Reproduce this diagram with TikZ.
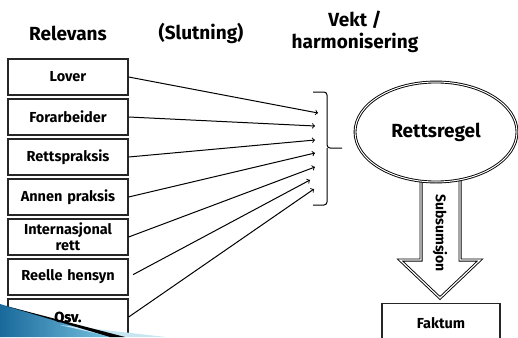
\documentclass[tikz,border=0pt]{standalone}
\usepackage{fontspec}
\setmainfont{Fira Sans}
\usetikzlibrary{arrows,positioning,shapes.geometric,calc}

\definecolor{bullblue}{RGB}{25,105,155}
\definecolor{bulllight}{RGB}{120,195,225}
\definecolor{bullpale}{RGB}{200,230,242}

\begin{document}
\begin{tikzpicture}[x=1pt,y=-1pt,>=to,node distance=2.7pt,line width=1pt,
    kilde/.style={draw=black!85, line width=1.3pt, minimum width=120pt,
      minimum height=36pt, text width=114pt, align=center, inner sep=1pt,
      font=\bfseries\fontsize{14.5}{16}\selectfont},
    overskrift/.style={font=\bfseries\fontsize{19}{22}\selectfont, align=center}]
    \useasboundingbox (0,0) rectangle (518,337);

    \node[overskrift] (relevans) at (68,33) {Relevans};
    \node[overskrift] (slutning) at (201,33) {(Slutning)};
    \node[overskrift] (vekt)     at (355,32) {Vekt /\\harmonisering};

    \node[kilde] (lover) at (68,77) {Lover};
    \node[kilde] (forarb)  [below=of lover]  {Forarbeider};
    \node[kilde] (praksis) [below=of forarb] {Rettspraksis};
    \node[kilde] (annen)   [below=of praksis] {Annen praksis};
    \node[kilde] (intern)  [below=of annen]  {Internasjonal\\rett};
    \node[kilde] (hensyn)  [below=of intern] {Reelle hensyn};
    \node[kilde] (osv)     [below=of hensyn] {Osv.};

    % bullet in the corner
    \shade[left color=bullblue, right color=bulllight, draw=none] (0,304) -- (112,337) -- (0,337) -- cycle;
    \fill[bullpale] (60,325) -- (166,337) -- (112,337) -- cycle;
    \fill[black] (6,306) -- (125,337) -- (110,337) -- cycle;
    \node[font=\bfseries\fontsize{14.5}{16}\selectfont] at (osv) {Osv.};

    \coordinate (t1) at (318,113);
    \coordinate (t2) at (315,126);
    \coordinate (t3) at (315,140);
    \coordinate (t4) at (315,153);
    \coordinate (t5) at (315,167);
    \coordinate (t6) at (310,180);
    \coordinate (t7) at (314,189);

    \draw[->] (lover.east)   -- (t1);
    \draw[->] (forarb.east)  -- (t2);
    \draw[->] (praksis.east) -- (t3);
    \draw[->] (annen.east)   -- (t4);
    \draw[->] (intern.east)  -- (t5);
    \draw[->, shorten <=5pt] (hensyn.east) -- (t6);
    \draw[->] (osv.east)     -- (t7);

    % klamme
    \draw[rounded corners=3pt] (313,92) -| (327,148) -- (342,148);
    \draw[rounded corners=3pt] (313,205) -| (327,148);

    % subsumsjonspil
    \draw[double, line width=.9pt, double distance=1.2pt]
      (421,175) -- (421,260) -- (400,260) -- (440,298) -- (480,260) -- (460,260) -- (460,175);
    \node[ellipse, draw, double, fill=white, line width=.9pt, double distance=1pt,
      minimum width=162pt, minimum height=100pt,
      font=\bfseries\fontsize{19}{22}\selectfont] (regel) at (436,132) {Rettsregel};
    \node[rotate=-90, font=\bfseries\fontsize{14}{16}\selectfont] (subs) at (440,233) {Subsumsjon};

    \node[draw=black!85, line width=1.3pt, minimum width=118pt, minimum height=38pt,
      anchor=north, font=\bfseries\fontsize{14.5}{16}\selectfont] (faktum) at (441,303) {Faktum};
\end{tikzpicture}
\end{document}
